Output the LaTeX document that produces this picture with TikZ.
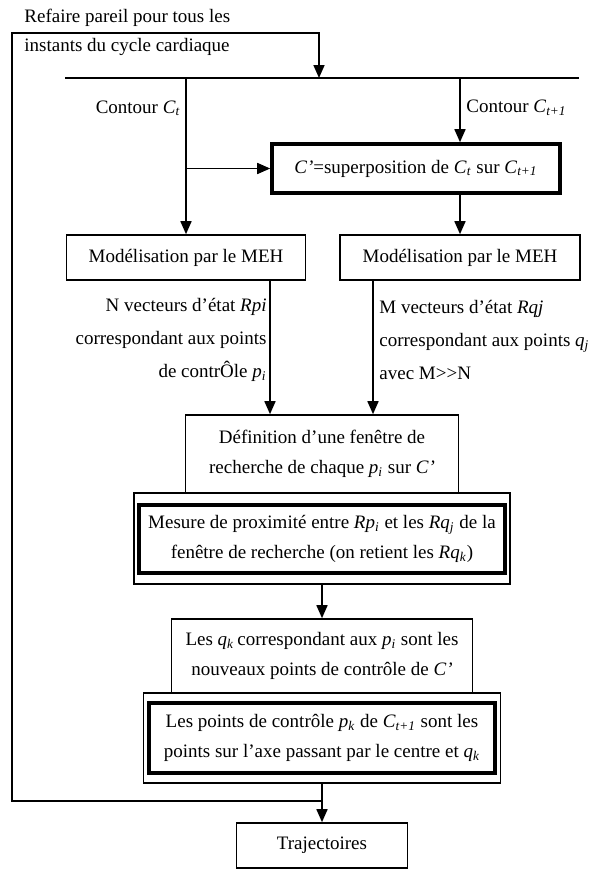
\documentclass[tikz,border=0pt]{standalone}
\usepackage{fontspec}
\setmainfont{Liberation Serif}
\usetikzlibrary{arrows.meta}
\newcommand\ind[2]{\textit{#1}\textsubscript{\textit{#2}}}
\tikzset{
  boite/.style={draw,line width=0.8pt,align=center,inner sep=2pt},
  boiteforte/.style={boite,line width=1.8pt},
  fleche/.style={line width=0.8pt,-{Triangle[length=6.5pt,width=5.5pt]}},
  trait/.style={line width=0.8pt},
  etiquette/.style={inner sep=0pt}
}

\begin{document}
\begin{tikzpicture}[x=0.5pt,y=-0.5pt,font=\fontsize{9.5pt}{15pt}\selectfont]
    \useasboundingbox (0,0) rectangle (598,869);
    \coordinate (haut) at (319,78);
    \coordinate (barG) at (65,78);
    \coordinate (barD) at (579,78);
    \coordinate (colC) at (186,78);
    \coordinate (colCC) at (460,78);
    \coordinate (colG) at (270,0);
    \coordinate (colD) at (373,0);
    \coordinate (coinB) at (12,801);
    \coordinate (coinH) at (12,33);
    \coordinate (coinA) at (319,33);

    \node[etiquette,anchor=west,align=left,font=\fontsize{9.5pt}{14.5pt}\selectfont] (refaire) at (24,32.5) {Refaire pareil pour tous les\\instants du cycle cardiaque};
    \node[etiquette,anchor=east] (contourG) at (181,108) {Contour \ind{C}{t}};
    \node[etiquette,anchor=west] (contourD) at (466,108) {Contour \ind{C}{t+1}};

    \node[boiteforte,minimum width=144pt,minimum height=24.5pt] (cprime) at (416,168.5) {\textit{C’}=superposition de \ind{C}{t} sur \ind{C}{t+1}};
    \node[boite,minimum width=119.5pt,minimum height=22.5pt] (modg) at (186,257.5) {Modélisation par le MEH};
    \node[boite,minimum width=120pt,minimum height=22.5pt] (modd) at (460,257.5) {Modélisation par le MEH};

    \node[etiquette,anchor=east,align=right,font=\fontsize{9.5pt}{16.5pt}\selectfont] (vecteursN) at (267,340) {N vecteurs d’état \textit{Rpi}\\correspondant aux points\\de contrÔle \ind{p}{i}};
    \node[etiquette,anchor=west,align=left,font=\fontsize{9.5pt}{16.5pt}\selectfont] (vecteursM) at (379,340) {M vecteurs d’état \textit{Rqj}\\correspondant aux points \ind{q}{j}\\avec M{>}{>}N};

    \node[boite,minimum width=136.5pt,minimum height=39pt] (defin) at (322,454) {Définition d’une fenêtre de\\recherche de chaque \ind{p}{i} sur \textit{C’}};
    \node[boite,minimum width=188pt,minimum height=45.5pt] (mesureCadre) at (322,538.5) {};
    \node[boiteforte,minimum width=183pt,minimum height=34pt] (mesure) at (322,539) {Mesure de proximité entre \textit{R}\ind{p}{i} et les \textit{R}\ind{q}{j} de la\\fenêtre de recherche (on retient les \textit{R}\ind{q}{k})};

    \node[boite,minimum width=150.5pt,minimum height=37pt] (lesq) at (322,656) {Les \ind{q}{k}\,correspondant aux \ind{p}{i} sont les\\nouveaux points de contrôle de \textit{C’}};
    \node[boite,minimum width=178.5pt,minimum height=45pt] (lespCadre) at (322,738) {};
    \node[boiteforte,minimum width=173pt,minimum height=35pt] (lesp) at (322,738) {Les points de contrôle \ind{p}{k} de \ind{C}{t+1} sont les\\points sur l’axe passant par le centre et \ind{q}{k}};

    \node[boite,minimum width=85.5pt,minimum height=22.5pt] (traj) at (322,845.5) {Trajectoires};
    \coordinate (retour) at (lespCadre.south |- coinB);

    \draw[fleche] (retour) -- (coinB) -- (coinH) -- (coinA) -- (haut);
    \draw[trait] (barG) -- (barD);
    \draw[fleche] (colC) -- (modg.north);
    \draw[fleche] (colC |- cprime.west) -- (cprime.west);
    \draw[fleche] (colCC) -- (colCC |- cprime.north);
    \draw[fleche] (colCC |- cprime.south) -- (modd.north);
    \draw[fleche] (colG |- modg.south) -- (colG |- defin.north);
    \draw[fleche] (colD |- modd.south) -- (colD |- defin.north);
    \draw[fleche] (mesureCadre.south) -- (lesq.north);
    \draw[fleche] (lespCadre.south) -- (traj.north);
\end{tikzpicture}
\end{document}
